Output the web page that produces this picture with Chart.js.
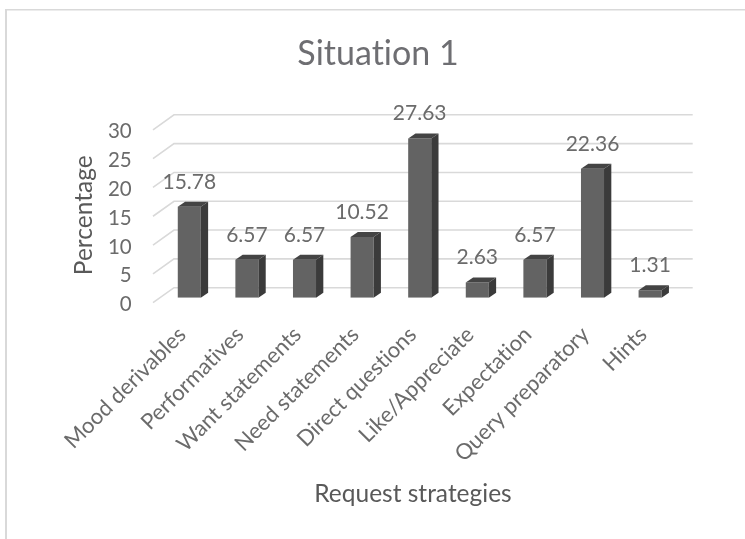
<!DOCTYPE html>
<html>
<head>
<meta charset="utf-8">
<title>Situation 1</title>
<script src="https://cdn.jsdelivr.net/npm/chart.js@4"></script>
<style>
  html, body { margin: 0; padding: 0; background: #fff; }
  #wrap { width: 745px; height: 539px; }
  canvas { display: block; }
</style>
</head>
<body>
<div id="wrap"><canvas id="chart" width="745" height="539"></canvas></div>
<script>
const chartTitle = 'Situation 1';
const xAxisTitle = 'Request strategies';
const yAxisTitle = 'Percentage';
const categories = ['Mood derivables', 'Performatives', 'Want statements', 'Need statements',
  'Direct questions', 'Like/Appreciate', 'Expectation', 'Query preparatory', 'Hints'];
const percentages = [15.78, 6.57, 6.57, 10.52, 27.63, 2.63, 6.57, 22.36, 1.31];

const FONT = 'Lato, sans-serif';
const TEXT = '#595959';
const TICK_TEXT = '#6b6b6b';
const GRID = '#d9d9d9';

// Fake depth of the 3-D column look, in pixels.
const BAR_DX = 7.3, BAR_DY = 5;
const WALL_LIFT = 10, FLOOR_DX = 21, FLOOR_DY = 15;

const frame = {
  id: 'frame',
  beforeDraw(chart) {
    const c = chart.ctx;
    c.textRendering = 'optimizeSpeed'; // keeps "ti" from joining into a ligature
    c.save();
    c.fillStyle = GRID;
    c.fillRect(5, 9, 740, 1.5);
    c.fillRect(5, 9, 2, 530);
    c.restore();
  }
};

// Back wall gridlines with their diagonal run across the floor.
const wallGrid = {
  id: 'wallGrid',
  beforeDatasetsDraw(chart) {
    const c = chart.ctx, y = chart.scales.y, a = chart.chartArea;
    const back = a.left + 13.5, end = a.right + 13.8;
    c.save();
    c.strokeStyle = GRID;
    c.lineWidth = 1.6;
    y.ticks.forEach(t => {
      const py = y.getPixelForValue(t.value) - WALL_LIFT;
      c.beginPath();
      c.moveTo(back - FLOOR_DX, py + FLOOR_DY);
      c.lineTo(back, py);
      c.lineTo(end, py);
      c.stroke();
    });
    c.restore();
  }
};

// Top and side faces of each column, taken from the bar elements.
const barFaces = {
  id: 'barFaces',
  afterDatasetsDraw(chart) {
    const c = chart.ctx;
    chart.getDatasetMeta(0).data.forEach(bar => {
      const p = bar.getProps(['x', 'y', 'base', 'width'], true);
      const l = p.x - p.width / 2, r = p.x + p.width / 2;
      c.save();
      c.fillStyle = '#444444';
      c.beginPath();
      c.moveTo(l, p.y);
      c.lineTo(l + BAR_DX, p.y - BAR_DY);
      c.lineTo(r + BAR_DX, p.y - BAR_DY);
      c.lineTo(r, p.y);
      c.closePath();
      c.fill();
      c.fillStyle = '#3b3b3b';
      c.beginPath();
      c.moveTo(r, p.y);
      c.lineTo(r + BAR_DX, p.y - BAR_DY);
      c.lineTo(r + BAR_DX, p.base - BAR_DY);
      c.lineTo(r, p.base);
      c.closePath();
      c.fill();
      c.restore();
    });
  }
};

const valueLabels = {
  id: 'valueLabels',
  afterDatasetsDraw(chart) {
    const c = chart.ctx;
    c.save();
    c.fillStyle = TICK_TEXT;
    c.font = '21px ' + FONT;
    c.textAlign = 'center';
    c.textBaseline = 'middle';
    chart.getDatasetMeta(0).data.forEach((bar, i) => {
      c.fillText(percentages[i].toFixed(2), bar.x, bar.y - 25);
    });
    c.restore();
  }
};

// Axis captions sit slightly off the plot centre, so they are placed here.
const axisCaptions = {
  id: 'axisCaptions',
  afterDraw(chart) {
    const c = chart.ctx, a = chart.chartArea;
    c.save();
    c.fillStyle = TEXT;
    c.font = '24.5px ' + FONT;
    c.textAlign = 'center';
    c.textBaseline = 'middle';
    c.fillText(xAxisTitle, (a.left + a.right) / 2 - 6.7, 494);
    c.translate(84, (a.top + a.bottom) / 2 + 4);
    c.rotate(-Math.PI / 2);
    c.fillText(yAxisTitle, 0, 0);
    c.restore();
  }
};

new Chart(document.getElementById('chart'), {
  type: 'bar',
  data: {
    labels: categories,
    datasets: [{
      label: yAxisTitle,
      data: percentages,
      backgroundColor: '#636363',
      borderWidth: 0,
      barPercentage: 0.4,
      categoryPercentage: 1
    }]
  },
  options: {
    responsive: false,
    animation: false,
    layout: { padding: { left: 77.1, right: 66.1, top: 0, bottom: 0 } },
    plugins: {
      legend: { display: false },
      tooltip: { enabled: false },
      title: {
        display: true,
        text: chartTitle,
        color: '#6e6e72',
        font: { family: FONT, size: 34, weight: 'normal', lineHeight: 1.2 },
        padding: { top: 34, bottom: 50 }
      }
    },
    scales: {
      x: {
        grid: { display: false, drawTicks: false },
        border: { display: false },
        ticks: {
          color: TICK_TEXT,
          font: { family: FONT, size: 22 },
          minRotation: 45,
          maxRotation: 45,
          autoSkip: false,
          padding: 24,
          labelOffset: -7
        },
        afterFit(s) {
          s.height = 241.3;
          s.paddingLeft = s.paddingRight = s.paddingTop = s.paddingBottom = 0;
        }
      },
      y: {
        min: 0,
        max: 30,
        grid: { display: false, drawTicks: false },
        border: { display: false },
        ticks: {
          stepSize: 5,
          color: TICK_TEXT,
          font: { family: FONT, size: 20.5 },
          padding: 28.8,
          labelOffset: 7
        },
        afterFit(s) {
          s.width = 83.4;
          s.paddingLeft = s.paddingRight = s.paddingTop = s.paddingBottom = 0;
        }
      }
    }
  },
  plugins: [frame, wallGrid, barFaces, valueLabels, axisCaptions]
});
</script>
</body>
</html>
